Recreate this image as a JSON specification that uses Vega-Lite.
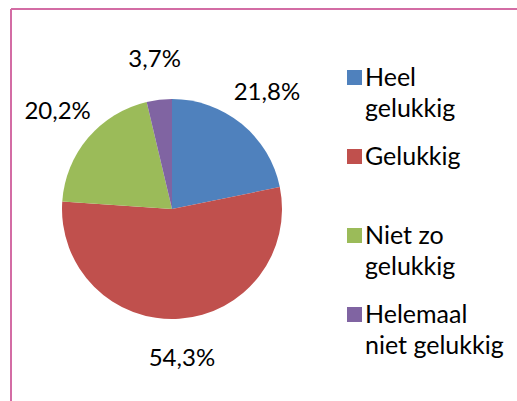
{
  "$schema": "https://vega.github.io/schema/vega-lite/v6.json",
  "width": 322,
  "height": 400,
  "autosize": {"type": "none"},
  "padding": {"left": 11, "top": 9, "right": 184, "bottom": 0},
  "background": "white",
  "config": {
    "view": {"stroke": null},
    "font": "Lato",
    "locale": {"number": {"decimal": ",", "thousands": ".", "grouping": [3], "currency": ["€ ", ""]}}
  },
  "data": {
    "values": [
      {"categorie": "Heel gelukkig", "aandeel": 0.218, "volgorde": 1},
      {"categorie": "Gelukkig", "aandeel": 0.543, "volgorde": 2},
      {"categorie": "Niet zo gelukkig", "aandeel": 0.202, "volgorde": 3},
      {"categorie": "Helemaal niet gelukkig", "aandeel": 0.037, "volgorde": 4}
    ]
  },
  "layer": [
    {
      "transform": [{"aggregate": [{"op": "count", "as": "n"}]}],
      "mark": {"type": "rect", "filled": false, "color": "#D36CA4", "strokeWidth": 2, "strokeDash": [322, 722, 400, 0]}
    },
    {
      "mark": {"type": "arc", "outerRadius": 110},
      "encoding": {
        "theta": {"field": "aandeel", "type": "quantitative", "stack": true},
        "order": {"field": "volgorde", "type": "quantitative"},
        "color": {
          "field": "categorie",
          "type": "nominal",
          "scale": {
            "domain": ["Heel gelukkig", "Gelukkig", "Niet zo gelukkig", "Helemaal niet gelukkig"],
            "range": ["#4F81BD", "#C0504D", "#9BBB59", "#8064A2"]
          },
          "legend": {
            "orient": "none",
            "legendX": 275,
            "legendY": 0,
            "title": null,
            "padding": 56,
            "strokeColor": "#D36CA4",
            "symbolType": "square",
            "symbolSize": 225,
            "symbolStrokeWidth": 0,
            "symbolOpacity": 1,
            "labelFont": "Lato",
            "labelFontSize": 25,
            "labelColor": "black",
            "labelOffset": -2,
            "labelLimit": 300,
            "rowPadding": 22,
            "labelExpr": "datum.label == 'Heel gelukkig' ? ['Heel', 'gelukkig'] : datum.label == 'Gelukkig' ? ['Gelukkig', '\u00a0'] : datum.label == 'Niet zo gelukkig' ? ['Niet zo', 'gelukkig'] : ['Helemaal', 'niet gelukkig']",
            "encode": {
              "labels": {"update": {"lineHeight": {"value": 31}}},
              "legend": {"update": {"strokeWidth": {"value": 2}, "strokeDash": {"value": [0, 47, 600, 5000]}}}
            }
          }
        }
      }
    },
    {
      "mark": {"type": "text", "radius": 150, "fontSize": 24, "font": "Lato", "color": "black"},
      "encoding": {
        "theta": {"field": "aandeel", "type": "quantitative", "stack": true},
        "order": {"field": "volgorde", "type": "quantitative"},
        "text": {"field": "aandeel", "type": "quantitative", "format": ".1%"}
      }
    }
  ]
}
